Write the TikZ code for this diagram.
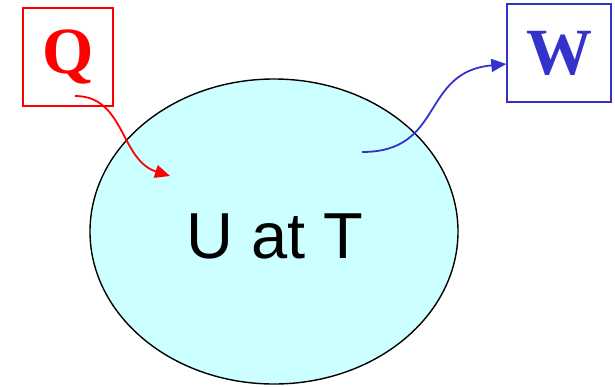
\documentclass[tikz,border=0pt]{standalone}
\usepackage{fontspec}
\setmainfont{Liberation Serif}
\newfontfamily\labelfont{Liberation Sans}
\definecolor{heatRed} {RGB}{255,   0,   0}
\definecolor{workBlue}{RGB}{ 51,  51, 204}
\definecolor{sysCyan} {RGB}{204, 255, 255}
\usetikzlibrary{
  arrows.meta,
  positioning,
  shapes.geometric,
  calc,
}

\begin{document}
\begin{tikzpicture}[
  x=1pt, y=-1pt,
  >={Triangle[length=15pt, width=13pt]},
  box/.style={draw, line width=1.4pt, inner sep=0pt, minimum height=98pt, font=\bfseries\fontsize{66}{66}\selectfont},
  flow/.style={->, line width=1.8pt},
]
  \useasboundingbox (0,0) rectangle (615,386);

  % System
  \node[ellipse, draw, line width=1.4pt, fill=sysCyan,
    minimum width=368pt, minimum height=305pt] (sys) at (274,231.5) {};
  \node[font=\labelfont\fontsize{65}{65}\selectfont] (uT) at (275,236.5) {U at T};

  % Heat in
  \node[box, color=heatRed, minimum width=90pt] (Q) at (68,57) {Q};
  \coordinate (qout) at (75,96);
  \coordinate (qin) at (170,176);
  \draw[flow, heatRed] (qout) .. controls (125,96) and (120,160) .. (qin);

  % Work out
  \node[box, color=workBlue, minimum width=104pt] (W) at (559,53) {W};
  \coordinate (wout) at (362,152);
  \draw[flow, workBlue] (wout) .. controls (445,152) and (420,72) .. ($(W.west)+(0,11)$);

\end{tikzpicture}
\end{document}
